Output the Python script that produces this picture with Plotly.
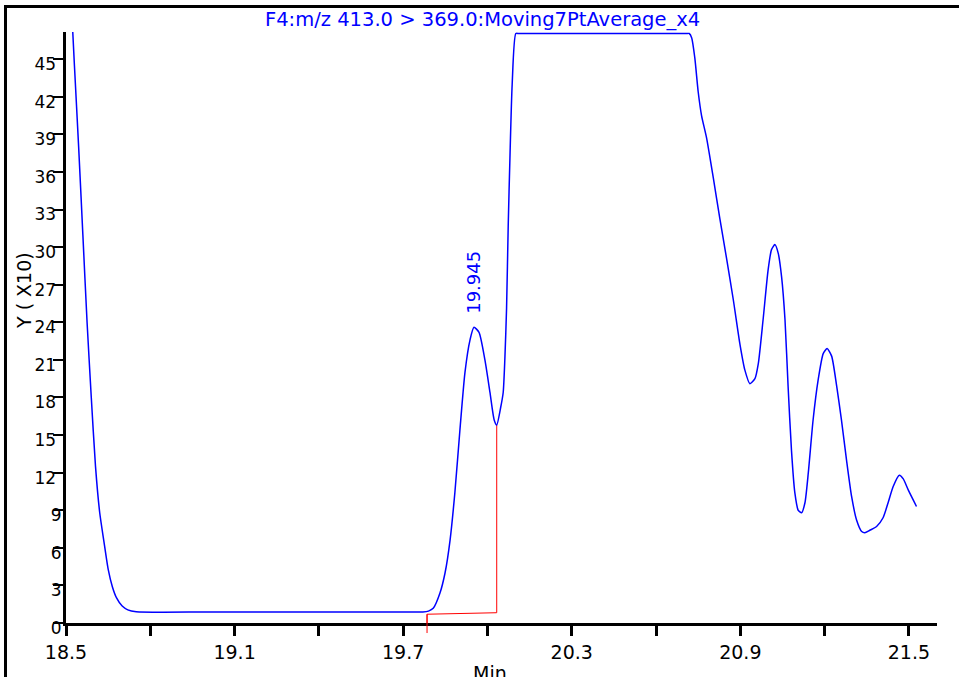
import plotly.graph_objects as go

# ---------------- data ----------------
time_min = [18.520, 18.530, 18.545, 18.560, 18.575, 18.590, 18.605, 18.620, 18.635, 18.650,
            18.665, 18.680, 18.700, 18.720, 18.750, 19.000, 19.300, 19.600, 19.770, 19.790,
            19.807, 19.831, 19.849, 19.867, 19.884, 19.902, 19.920, 19.938, 19.952, 19.970,
            19.991, 20.009, 20.024, 20.033, 20.047, 20.056, 20.062, 20.068, 20.074, 20.080,
            20.088, 20.101, 20.112, 20.300, 20.500, 20.708, 20.718, 20.727, 20.738, 20.750,
            20.762, 20.780, 20.804, 20.827, 20.851, 20.875, 20.899, 20.916, 20.934, 20.952,
            20.964, 20.981, 20.999, 21.011, 21.023, 21.035, 21.047, 21.059, 21.070, 21.082,
            21.094, 21.106, 21.118, 21.130, 21.142, 21.159, 21.177, 21.195, 21.209, 21.225,
            21.243, 21.260, 21.278, 21.296, 21.314, 21.332, 21.343, 21.361, 21.385, 21.408,
            21.426, 21.444, 21.466, 21.480, 21.498, 21.527]
intensity = [49.0, 44.5, 38.0, 31.0, 24.0, 18.0, 12.5, 8.8, 6.5, 4.3,
             2.9, 2.0, 1.35, 1.05, 0.9, 0.88, 0.88, 0.88, 0.88, 0.95,
             1.17, 2.39, 3.99, 6.62, 10.4, 15.4, 20.0, 22.6, 23.6, 23.2,
             21.0, 18.4, 16.2, 15.8, 17.2, 18.4, 21.1, 25.1, 31.8, 37.1,
             43.0, 47.05, 47.05, 47.05, 47.05, 47.05, 47.05, 46.7, 45.1, 42.4,
             40.5, 38.7, 35.5, 32.3, 29.1, 25.8, 22.2, 20.2, 19.1, 19.5,
             20.7, 24.2, 28.2, 29.8, 30.2, 29.5, 27.6, 24.2, 18.9, 13.8,
             10.4, 9.0, 8.8, 9.6, 12.0, 16.2, 19.4, 21.5, 21.9, 21.3,
             18.9, 16.2, 13.0, 10.1, 8.2, 7.3, 7.2, 7.4, 7.7, 8.4,
             9.6, 10.9, 11.8, 11.5, 10.6, 9.3]

# integration baseline of the labelled peak
base_time = [19.785, 19.785, 20.033, 20.033]
base_level = [0.0, 0.70, 0.82, 15.8]
base_drop = -0.8          # how far the start marker reaches below the axis

peak_time = 19.952
peak_level = 23.6
peak_label = "19.945"

x_tickvals = [18.5, 18.8, 19.1, 19.4, 19.7, 20.0, 20.3, 20.6, 20.9, 21.2, 21.5]
x_ticktext = ["18.5", "", "19.1", "", "19.7", "", "20.3", "", "20.9", "", "21.5"]
y_tickvals = list(range(0, 46, 3))
y_ticktext = [str(v) if v < 10 else f"{v}\u00a0" for v in y_tickvals]

title_text = "F4:m/z 413.0 > 369.0:Moving7PtAverage_x4"
x_title = "Min"
y_title = "Y ( X10)"

X_RANGE = [18.5, 21.6]
Y_RANGE = [0, 47.17]

# ---------------- layout geometry ----------------
W, H = 959, 677
ML, MR, MT, MB = 66, 22, 32, 54
PW, PH = W - ML - MR, H - MT - MB


def px_x(px):
    return (px - ML) / PW


def px_y(py):
    return (H - MB - py) / PH


BLUE = "#0000ff"
FONT = "DejaVu Sans"

fig = go.Figure()
fig.add_trace(go.Scatter(x=base_time, y=base_level, mode="lines",
                         line=dict(color="#ff0000", width=1), hoverinfo="skip"))
fig.add_trace(go.Scatter(x=time_min, y=intensity, mode="lines",
                         line=dict(color=BLUE, width=1.5, shape="spline", smoothing=0.6),
                         hoverinfo="skip"))

# start marker of the baseline reaching below the axis
fig.add_shape(type="line", xref="x", yref="paper",
              x0=base_time[0], x1=base_time[0],
              y0=base_drop / Y_RANGE[1], y1=base_level[1] / Y_RANGE[1],
              line=dict(color="#ff0000", width=1))

# outer frame
fig.add_shape(type="rect", xref="paper", yref="paper",
              x0=px_x(5.5), x1=px_x(1000), y0=px_y(720), y1=px_y(6.5),
              line=dict(color="black", width=3), fillcolor="rgba(0,0,0,0)")

fig.add_annotation(x=peak_time, y=peak_level, text=peak_label, textangle=-90,
                   showarrow=False, yanchor="bottom", xanchor="center", yshift=12,
                   font=dict(family=FONT, size=18, color=BLUE))
fig.add_annotation(xref="paper", yref="paper", x=px_x(482), y=px_y(20),
                   text=title_text, showarrow=False, xanchor="center", yanchor="middle",
                   font=dict(family=FONT, size=19.5, color=BLUE))
fig.add_annotation(xref="paper", yref="paper", x=px_x(490), y=px_y(660),
                   text=x_title, showarrow=False, xanchor="center", yanchor="top",
                   font=dict(family=FONT, size=19, color="black"))
fig.add_annotation(xref="paper", yref="paper", x=px_x(24), y=px_y(291),
                   text=y_title, showarrow=False, textangle=-90,
                   xanchor="center", yanchor="middle",
                   font=dict(family=FONT, size=19, color="black"))

fig.update_layout(
    width=W, height=H,
    margin=dict(l=ML, r=MR, t=MT, b=MB, pad=0),
    paper_bgcolor="white", plot_bgcolor="white",
    showlegend=False,
    font=dict(family=FONT, color="black"),
    xaxis=dict(range=X_RANGE, tickvals=x_tickvals, ticktext=x_ticktext,
               showgrid=False, zeroline=False, showline=True, linecolor="black",
               linewidth=3, ticks="outside", ticklen=10, tickwidth=2.5, tickcolor="black",
               automargin=False,
               tickfont=dict(family=FONT, size=19, color="black")),
    yaxis=dict(range=Y_RANGE, tickvals=y_tickvals, ticktext=y_ticktext,
               showgrid=False, zeroline=False, showline=True, linecolor="black",
               linewidth=3, ticks="outside", ticklen=10, tickwidth=2, tickcolor="black",
               ticklabelstandoff=-12, ticklabelshift=5, automargin=False,
               tickfont=dict(family=FONT, size=17, color="black")),
)

fig.write_html("out.html", config={"displayModeBar": False},
               post_script="document.body.style.margin='0';document.body.style.overflow='hidden';")
